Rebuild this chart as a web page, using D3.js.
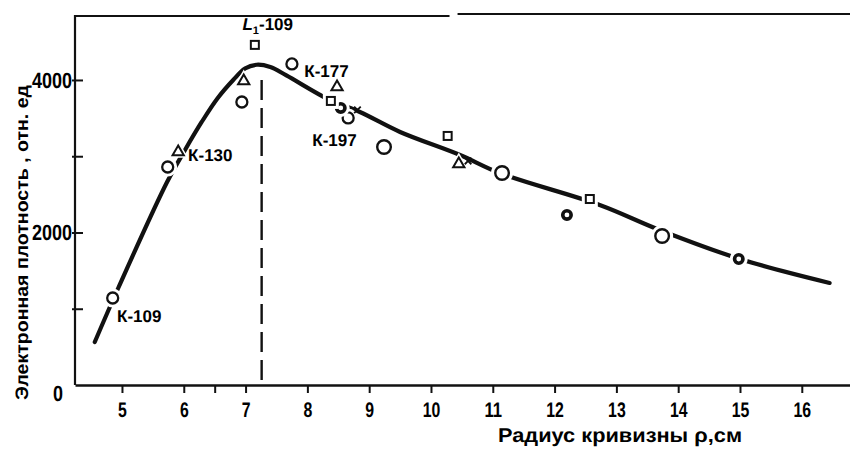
<!DOCTYPE html>
<html>
<head>
<meta charset="utf-8">
<script src="https://cdn.jsdelivr.net/npm/d3@7"></script>
<style>
  html, body { margin: 0; padding: 0; background: #fff; }
  svg { display: block; }
  text { font-family: "Liberation Sans", Arial, sans-serif; fill: #000; text-rendering: geometricPrecision; }
</style>
</head>
<body>
<script>
// ---- data ----
const xTickValues = [5, 6, 6.5, 7, 8, 9, 10, 11, 12, 13, 14, 15, 16];
const xTickLabels = ["5", "6", "", "7", "8", "9", "10", "11", "12", "13", "14", "15", "16"];
const yTickValues = [0, 1000, 2000, 3000, 4000];
const yTickLabels = ["0", "", "2000", "", "4000"];

// fitted curve: radius (cm), electron density (rel. units)
const curvePoints = [[4.56, 564], [4.94, 1272], [5.73, 2662], [6.02, 3082], [6.29, 3449],
  [6.55, 3764], [6.80, 4000], [6.99, 4150], [7.18, 4200], [7.40, 4170], [7.66, 4060],
  [8.36, 3738], [8.85, 3580], [9.50, 3318], [10.47, 3016], [11.11, 2780], [12.73, 2361],
  [13.70, 2033], [15.00, 1652], [16.45, 1338]];

const openCircles = [[4.85, 1141], [5.74, 2859], [6.94, 3711], [7.75, 4210], [8.66, 3502]];
const bigCircles = [[9.24, 3121], [11.15, 2780], [13.74, 1954]];
const darkRings = [[8.54, 3633], [12.20, 2230], [14.98, 1652]];
const triangles = [[5.91, 3056], [6.97, 3987], [8.48, 3908], [10.45, 2898]];
const squares = [[7.15, 4460], [8.38, 3725], [10.27, 3266], [12.57, 2439]];
const stars = [[8.81, 3607], [10.60, 2938]];

const peakRadius = 7.26;

const labels = [
  { text: "К-109", x: 4.92, y: 820 },
  { text: "К-130", x: 6.07, y: 2940 },
  { text: "К-177", x: 7.95, y: 4040 },
  { text: "К-197", x: 8.08, y: 3134 },
];
const topLabel = { main: "L", sub: "1", rest: "-109", x: 6.95, y: 4650 };

const xTitle = "Радиус  кривизны  ρ,см";
const yTitle = "Электронная   плотность , отн. ед";

// ---- drawing ----
const W = 850, H = 450;
const svg = d3.select("body").append("svg").attr("width", W).attr("height", H);

const x = d3.scaleLinear().domain([4.24, 16.78]).range([75, 850]);
const y = d3.scaleLinear().domain([0, 4852]).range([385, 15]);

// frame: left axis and top line (with a small break)
const g = svg.append("g");
g.append("line").attr("x1", x(4.24)).attr("x2", x(4.24)).attr("y1", y(0)).attr("y2", y(4852))
  .attr("stroke", "#111").attr("stroke-width", 2.2);
g.append("line").attr("x1", x(4.24)).attr("x2", x(10.3)).attr("y1", y(4852) + 1).attr("y2", y(4852) + 1)
  .attr("stroke", "#111").attr("stroke-width", 2);
g.append("line").attr("x1", x(10.43)).attr("x2", x(16.78)).attr("y1", y(4852) - 1).attr("y2", y(4852) - 1)
  .attr("stroke", "#111").attr("stroke-width", 2);

// x axis
const xAxis = d3.axisBottom(x).tickValues(xTickValues)
  .tickFormat((d, i) => xTickLabels[i]).tickSizeInner(8).tickSizeOuter(0).tickPadding(9);
const gx = svg.append("g").attr("transform", `translate(0,${y(0)})`).call(xAxis);
gx.select(".domain").attr("stroke", "#111").attr("stroke-width", 2.6);
gx.selectAll(".tick line").attr("stroke", "#111").attr("stroke-width", 2);
gx.selectAll(".tick text").attr("font-size", 21).attr("font-weight", "bold")
  .style("font-family", '"Liberation Sans", Arial, sans-serif').style("fill", "#000")
  .attr("textLength", function () { return this.textContent.length * 8.8; })
  .attr("lengthAdjust", "spacingAndGlyphs");

// y axis
const yAxis = d3.axisLeft(y).tickValues(yTickValues)
  .tickFormat((d, i) => yTickLabels[i]).tickSizeInner(-8).tickSizeOuter(0).tickPadding(3);
const gy = svg.append("g").attr("transform", `translate(${x(4.24)},0)`).call(yAxis);
gy.select(".domain").remove();
gy.selectAll(".tick line").attr("stroke", "#111").attr("stroke-width", 2).attr("x1", -3);
gy.selectAll(".tick text").attr("font-size", 22).attr("font-weight", "bold")
  .style("font-family", '"Liberation Sans", Arial, sans-serif').style("fill", "#000")
  .attr("textLength", function () { return this.textContent.length * 10; })
  .attr("lengthAdjust", "spacingAndGlyphs");
gy.selectAll(".tick").filter(d => d === 0).select("text").attr("x", -12).attr("dy", "0.7em");
gy.selectAll(".tick").filter(d => d === 0).select("line").remove();

// dashed line at the peak
svg.append("line").attr("x1", x(peakRadius)).attr("x2", x(peakRadius))
  .attr("y1", y(4000)).attr("y2", y(30))
  .attr("stroke", "#111").attr("stroke-width", 2.4).attr("stroke-dasharray", "20,8");

// curve
const line = d3.line().x(d => x(d[0])).y(d => y(d[1])).curve(d3.curveCatmullRom.alpha(0.5));
svg.append("path").datum(curvePoints).attr("d", line)
  .attr("fill", "none").attr("stroke", "#111").attr("stroke-width", 4.2).attr("stroke-linecap", "round");

// markers (white halo breaks the line like in the print)
const mk = svg.append("g");
function halo(sel) { return sel.attr("stroke", "#fff").attr("stroke-width", 4).attr("fill", "#fff"); }

mk.selectAll(".oc-h").data(openCircles).join("circle").attr("cx", d => x(d[0])).attr("cy", d => y(d[1])).attr("r", 7.5).call(halo);
mk.selectAll(".oc").data(openCircles).join("circle").attr("cx", d => x(d[0])).attr("cy", d => y(d[1])).attr("r", 5.5)
  .attr("fill", "#fff").attr("stroke", "#111").attr("stroke-width", 2.3);

mk.selectAll(".bc-h").data(bigCircles).join("circle").attr("cx", d => x(d[0])).attr("cy", d => y(d[1])).attr("r", 9).call(halo);
mk.selectAll(".bc").data(bigCircles).join("circle").attr("cx", d => x(d[0])).attr("cy", d => y(d[1])).attr("r", 6.8)
  .attr("fill", "#fff").attr("stroke", "#111").attr("stroke-width", 2.4);

mk.selectAll(".dr-h").data(darkRings).join("circle").attr("cx", d => x(d[0])).attr("cy", d => y(d[1])).attr("r", 7).call(halo);
mk.selectAll(".dr").data(darkRings).join("circle").attr("cx", d => x(d[0])).attr("cy", d => y(d[1])).attr("r", 4.2)
  .attr("fill", "#fff").attr("stroke", "#111").attr("stroke-width", 3.6);

const tri = d3.symbol().type(d3.symbolTriangle).size(55);
mk.selectAll(".tr-h").data(triangles).join("path").attr("d", tri)
  .attr("transform", d => `translate(${x(d[0])},${y(d[1])})`).attr("stroke", "#fff").attr("stroke-width", 5).attr("fill", "#fff");
mk.selectAll(".tr").data(triangles).join("path").attr("d", tri)
  .attr("transform", d => `translate(${x(d[0])},${y(d[1])})`).attr("fill", "#fff").attr("stroke", "#111").attr("stroke-width", 2);

mk.selectAll(".sq-h").data(squares).join("rect").attr("x", d => x(d[0]) - 6).attr("y", d => y(d[1]) - 6)
  .attr("width", 12).attr("height", 12).call(halo);
mk.selectAll(".sq").data(squares).join("rect").attr("x", d => x(d[0]) - 4).attr("y", d => y(d[1]) - 4)
  .attr("width", 8).attr("height", 8).attr("fill", "#fff").attr("stroke", "#111").attr("stroke-width", 2);

mk.selectAll(".st").data(stars).join("path").attr("d", d3.symbol().type(d3.symbolTimes).size(30))
  .attr("transform", d => `translate(${x(d[0])},${y(d[1])})`).attr("fill", "none").attr("stroke", "#111").attr("stroke-width", 1.8);

// annotations
svg.selectAll(".ann").data(labels).join("text")
  .attr("x", d => x(d.x)).attr("y", d => y(d.y))
  .attr("font-size", 17).attr("font-weight", "bold").text(d => d.text);

const tl = svg.append("text").attr("x", x(topLabel.x)).attr("y", y(topLabel.y))
  .attr("font-size", 17).attr("font-weight", "bold");
tl.append("tspan").attr("font-style", "italic").text(topLabel.main);
tl.append("tspan").attr("font-size", 11).attr("dy", 4).text(topLabel.sub);
tl.append("tspan").attr("dy", -4).text(topLabel.rest);

// axis titles
svg.append("text").attr("x", 498).attr("y", 442).attr("font-size", 20).attr("font-weight", 600)
  .attr("textLength", 244).attr("lengthAdjust", "spacingAndGlyphs").text(xTitle);

svg.append("text").attr("transform", "translate(28,400) rotate(-90)")
  .attr("font-size", 18).attr("font-weight", "bold")
  .attr("textLength", 315).attr("lengthAdjust", "spacingAndGlyphs").text(yTitle);
</script>
</body>
</html>
